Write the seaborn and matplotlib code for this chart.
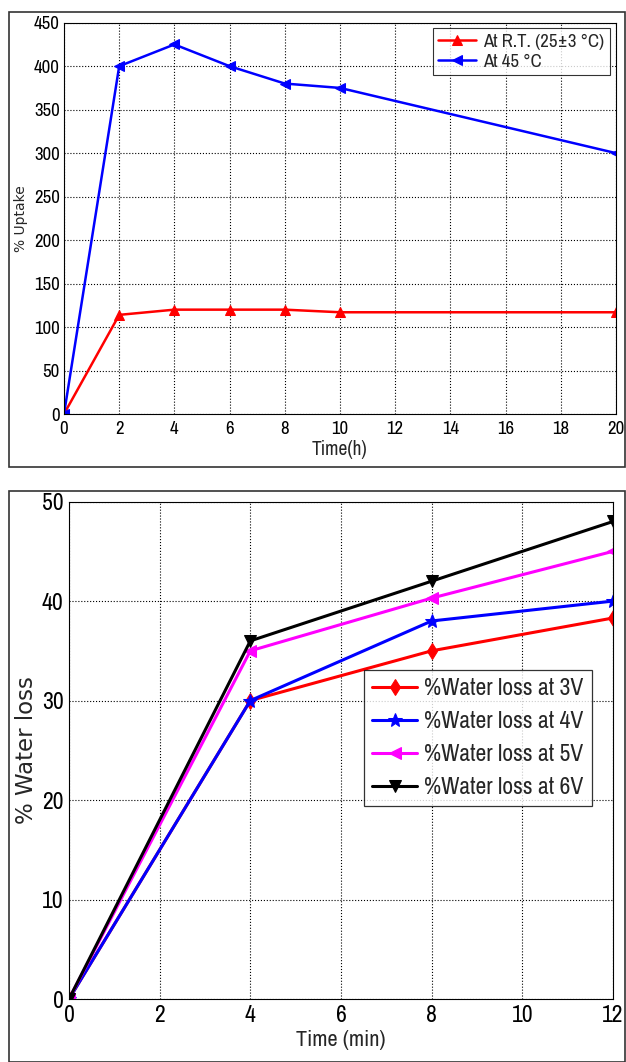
import os
import matplotlib
matplotlib.use("Agg")
import matplotlib.pyplot as plt
from matplotlib import font_manager as fm
import seaborn as sns
import pandas as pd
from matplotlib.patches import Rectangle

# ---- data: top panel ----
time_h = [0, 2, 4, 6, 8, 10, 20]
uptake_rt = [0, 114, 120, 120, 120, 117, 117]
uptake_45 = [0, 400, 425, 400, 380, 375, 300]
top_labels = ["At R.T. (25\u00b13 \u00b0C)", "At 45 \u00b0C"]

# ---- data: bottom panel ----
time_min = [0, 4, 8, 12]
loss_3v = [0, 30, 35, 38.3]
loss_4v = [0, 30, 38, 40]
loss_5v = [0, 35, 40.3, 45]
loss_6v = [0, 36, 42, 48]
bottom_labels = ["%Water loss at 3V", "%Water loss at 4V",
                 "%Water loss at 5V", "%Water loss at 6V"]

sns.set_theme(style="white")
plt.rcParams['font.family'] = ['DejaVu Sans']


def find_narrow():
    best = None
    for f in fm.fontManager.ttflist:
        base = os.path.basename(f.fname).lower()
        if any(k in base for k in ('bold', 'italic', 'oblique', 'light', 'mono', 'serif')):
            continue
        if 'narrow' in base:
            return f.fname, 'narrow'
        if 'condensed' in base and best is None:
            best = (f.fname, 'condensed')
    return best if best else (None, 'normal')


narrow_path, narrow_kind = find_narrow()
scale = {'narrow': 1.0, 'condensed': 0.88, 'normal': 0.8}[narrow_kind]


def nfont(size):
    if narrow_path:
        return fm.FontProperties(fname=narrow_path, size=size * scale)
    return fm.FontProperties(family='DejaVu Sans', size=size * scale)


fig = plt.figure(figsize=(6.26, 10.62), dpi=100)

# outer frames
fig.patches.append(Rectangle((9/626, 1-467/1062), 616/626, 455/1062,
                             transform=fig.transFigure, fill=False,
                             edgecolor='#333333', lw=1.2))
fig.patches.append(Rectangle((9/626, 0.0), 616/626, 1-491/1062,
                             transform=fig.transFigure, fill=False,
                             edgecolor='#333333', lw=1.2))

grid_kw = dict(color='black', linestyle=':', linewidth=0.8)

# ---------------- top panel ----------------
ax1 = fig.add_axes([64/626, 1-414/1062, (616-64)/626, (414-22.7)/1062])
df_top = pd.DataFrame({"t": time_h * 2,
                       "v": uptake_rt + uptake_45,
                       "s": [top_labels[0]] * len(time_h) + [top_labels[1]] * len(time_h)})
sns.lineplot(data=df_top[df_top.s == top_labels[0]], x="t", y="v", ax=ax1,
             color='#ff0000', marker='^', markersize=7, lw=1.8,
             markeredgecolor='#ff0000', label=top_labels[0])
sns.lineplot(data=df_top[df_top.s == top_labels[1]], x="t", y="v", ax=ax1,
             color='#0000ff', marker='<', markersize=7, lw=1.8,
             markeredgecolor='#0000ff', label=top_labels[1])
ax1.set_xlim(0, 20)
ax1.set_ylim(0, 450)
ax1.set_xticks(range(0, 21, 2))
ax1.set_yticks(range(0, 451, 50))
ax1.grid(True, **grid_kw)
for s in ax1.spines.values():
    s.set_color('black'); s.set_linewidth(0.8)
ax1.tick_params(axis='both', direction='in', length=4, colors='black', pad=3)
ax1.tick_params(axis='x', pad=5)
for lbl in ax1.get_xticklabels() + ax1.get_yticklabels():
    lbl.set_fontproperties(nfont(13.5))
ax1.set_xlabel("Time(h)", fontproperties=nfont(14), labelpad=2)
ax1.set_ylabel("% Uptake", fontsize=10)
ax1.yaxis.set_label_coords((28 - 64) / 552, 0.5)
leg1 = ax1.legend(loc='upper right', prop=nfont(13.5), frameon=True, fancybox=False,
                  edgecolor='black', handlelength=2.0, borderpad=0.3,
                  labelspacing=0.2, handletextpad=0.4, borderaxespad=0,
                  bbox_to_anchor=(0.989, 0.986))
leg1.get_frame().set_linewidth(0.8)

# ---------------- bottom panel ----------------
ax2 = fig.add_axes([69/626, 1-999/1062, (613-69)/626, (999-501.6)/1062])
series = [(loss_3v, '#ff0000', 'd', 8), (loss_4v, '#0000ff', '*', 10),
          (loss_5v, '#ff00ff', '<', 9), (loss_6v, '#000000', 'v', 9)]
for (vals, col, mk, ms), lab in zip(series, bottom_labels):
    d = pd.DataFrame({"t": time_min, "v": vals})
    sns.lineplot(data=d, x="t", y="v", ax=ax2, color=col, marker=mk,
                 markersize=ms, markeredgecolor=col, lw=2.2, label=lab)
ax2.set_xlim(0, 12)
ax2.set_ylim(0, 50)
ax2.set_xticks(range(0, 13, 2))
ax2.set_yticks(range(0, 51, 10))
ax2.grid(True, **grid_kw)
for s in ax2.spines.values():
    s.set_color('black'); s.set_linewidth(0.8)
ax2.tick_params(axis='both', direction='in', length=4, colors='black', pad=4)
for lbl in ax2.get_xticklabels() + ax2.get_yticklabels():
    lbl.set_fontproperties(nfont(17))
ax2.set_xlabel("Time (min)", fontproperties=nfont(16), labelpad=3)
ax2.set_ylabel("% Water loss", fontsize=16.5)
ax2.yaxis.set_label_coords((38 - 69) / 544, 0.5)
leg2 = ax2.legend(loc='upper right', bbox_to_anchor=(0.961, 0.661),
                  prop=nfont(17), frameon=True, borderaxespad=0,
                  fancybox=False, edgecolor='black', handlelength=1.9,
                  borderpad=0.35, labelspacing=0.5, handletextpad=0.3)
leg2.get_frame().set_linewidth(0.9)

fig.savefig("out.png", dpi=100)
